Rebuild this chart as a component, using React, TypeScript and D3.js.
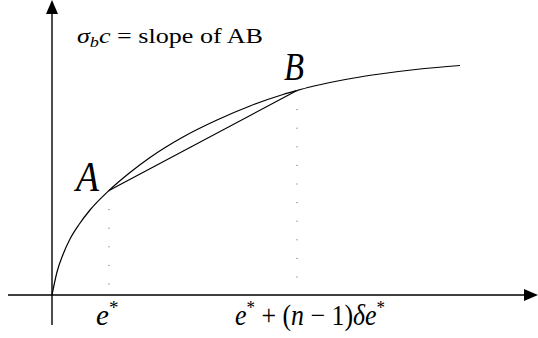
import { useRef, useLayoutEffect, useState, ReactNode } from "react";
import * as d3 from "d3";

// curve (units: px from origin, right / up)
const curveU = [0, 5, 11, 18, 27, 38, 57, 78, 98, 131, 165, 198, 231, 245, 258, 283, 308, 328, 368, 408];
const curveV = [0, 23, 40.5, 56, 70.5, 85, 104.5, 122.5, 137.5, 158, 175, 189, 200.5, 204.5, 208, 213.5, 218, 221, 226, 229.5];

const pointA = 6; // index of A on the curve
const pointB = 13; // index of B

const xExtent = [-44, 486];
const yExtent = [-30, 295];

const W = 538;
const H = 338;

const serif = { fontFamily: '"Liberation Serif"' };

const x = d3.scaleLinear().domain([0, 486]).range([52, 538]);
const y = d3.scaleLinear().domain([0, 295]).range([295, 0]);

const pts: [number, number][] = curveU.map((u, i) => [u, curveV[i]]);
const A = pts[pointA];
const B = pts[pointB];

const line = d3
  .line<[number, number]>()
  .x((d) => x(d[0]))
  .y((d) => y(d[1]))
  .curve(d3.curveMonotoneX);

const ah = 14; // arrowhead length
const aw = 6; // arrowhead half width

// text squeezed/stretched horizontally to a given width (keeps the font, unlike textLength)
const FitText = ({
  x,
  y,
  width,
  fontSize,
  italic = false,
  children,
}: {
  x: number;
  y: number;
  width?: number;
  fontSize: number;
  italic?: boolean;
  children: ReactNode;
}) => {
  const ref = useRef<SVGTextElement>(null);
  const [sx, setSx] = useState(1);

  useLayoutEffect(() => {
    if (!ref.current || !width) return;
    const w = ref.current.getComputedTextLength();
    if (w > 0) setSx(width / w);
  }, [width, children]);

  return (
    <text
      ref={ref}
      transform={`translate(${x},${y}) scale(${sx},1)`}
      fontSize={fontSize}
      fontStyle={italic ? "italic" : "normal"}
      style={serif}
    >
      {children}
    </text>
  );
};

const App = () => {
  const x0 = x(0);
  const y0 = y(0);
  const xEnd = x(xExtent[1]);
  const yEnd = y(yExtent[1]);

  return (
    <svg width={W} height={H} style={{ position: "absolute", left: 0, top: 0, background: "#fff" }}>
      {/* axes */}
      <line x1={x(xExtent[0])} x2={xEnd - ah + 1} y1={y0} y2={y0} stroke="#000" strokeWidth={1.4} />
      <path d={`M${xEnd},${y0}L${xEnd - ah},${y0 - aw}L${xEnd - ah},${y0 + aw}Z`} fill="#000" />
      <line x1={x0} x2={x0} y1={y(yExtent[0])} y2={yEnd + ah - 1} stroke="#000" strokeWidth={1.4} />
      <path d={`M${x0},${yEnd}L${x0 - aw},${yEnd + ah}L${x0 + aw},${yEnd + ah}Z`} fill="#000" />

      {/* curve and chord */}
      <path d={line(pts) ?? ""} fill="none" stroke="#000" strokeWidth={1.2} />
      <line x1={x(A[0])} y1={y(A[1])} x2={x(B[0])} y2={y(B[1])} stroke="#000" strokeWidth={1.2} />

      {/* dotted drops */}
      {[A, B].map((p, i) => (
        <line
          key={i}
          x1={x(p[0])}
          x2={x(p[0])}
          y1={y(p[1])}
          y2={y0}
          stroke="#555"
          strokeWidth={1}
          strokeDasharray="1 17.6"
        />
      ))}

      {/* point labels */}
      <FitText x={x(A[0]) - 33} y={y(A[1])} fontSize={43} width={23} italic>
        A
      </FitText>
      <FitText x={x(B[0]) - 13} y={y(B[1]) - 11} fontSize={39} width={20} italic>
        B
      </FitText>

      {/* title */}
      <FitText x={77} y={43} fontSize={20} width={186}>
        <tspan fontStyle="italic">σ</tspan>
        <tspan fontStyle="italic" fontSize={14} dy={4}>
          b
        </tspan>
        <tspan fontStyle="italic" dy={-4}>
          c
        </tspan>
        <tspan> = slope of AB</tspan>
      </FitText>

      {/* axis labels */}
      <FitText x={x(A[0]) - 13} y={325} fontSize={29}>
        <tspan fontStyle="italic">e</tspan>
        <tspan fontSize={19} dy={-11}>
          *
        </tspan>
      </FitText>
      <FitText x={x(B[0]) - 62} y={325} fontSize={29} width={150}>
        <tspan fontStyle="italic">e</tspan>
        <tspan fontSize={19} dy={-11}>
          *
        </tspan>
        <tspan dy={11}> + (</tspan>
        <tspan fontStyle="italic">n</tspan>
        <tspan> − 1)</tspan>
        <tspan fontStyle="italic">δe</tspan>
        <tspan fontSize={19} dy={-11}>
          *
        </tspan>
      </FitText>
    </svg>
  );
};

export default App;
